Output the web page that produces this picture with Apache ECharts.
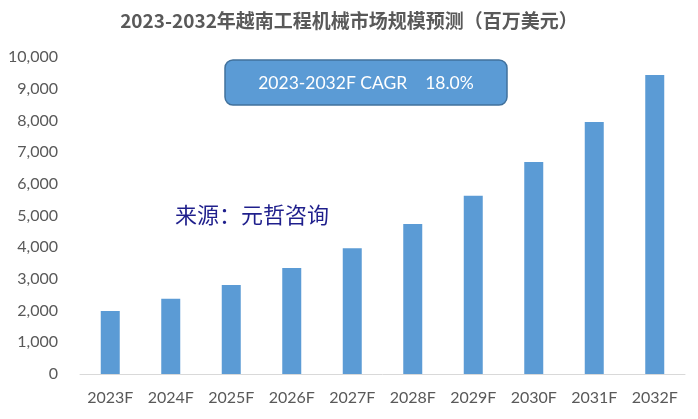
<!DOCTYPE html>
<html>
<head>
<meta charset="utf-8">
<script src="https://cdn.jsdelivr.net/npm/echarts@6/dist/echarts.min.js"></script>
<style>
  html, body { margin: 0; padding: 0; background: #fff; }
  #main { width: 698px; height: 419px; }
</style>
</head>
<body>
<div id="main"></div>
<script>
    // 年份与市场规模（百万美元）
    const years = ['2023F', '2024F', '2025F', '2026F', '2027F', '2028F', '2029F', '2030F', '2031F', '2032F'];
    const marketSize = [1990, 2370, 2810, 3340, 3970, 4730, 5620, 6690, 7950, 9430];
    const titleText = '2023-2032年越南工程机械市场规模预测（百万美元）';
    const cagrText = '2023-2032F CAGR    18.0%';
    const sourceText = '来源：元哲咨询';

    const labelFont = 'Lato, "Open Sans", "Noto Sans CJK SC", sans-serif';

    let myChart = echarts.init(document.getElementById('main'));
    myChart.setOption({
        animation: false,
        title: {
            text: titleText,
            left: 'center',
            top: 6,
            textStyle: {
                color: '#595959',
                fontSize: 19,
                fontWeight: 'bold',
                fontFamily: '"Noto Sans CJK SC", sans-serif'
            }
        },
        grid: {
            left: 80,
            right: 13,
            top: 57,
            bottom: 45
        },
        xAxis: {
            type: 'category',
            data: years,
            axisLine: { lineStyle: { color: '#D9D9D9', width: 1 } },
            axisTick: { show: false },
            axisLabel: {
                color: '#595959',
                fontSize: 16,
                fontFamily: labelFont,
                margin: 16
            }
        },
        yAxis: {
            type: 'value',
            min: 0,
            max: 10000,
            interval: 1000,
            splitLine: { show: false },
            axisLine: { show: false },
            axisTick: { show: false },
            axisLabel: {
                color: '#595959',
                fontSize: 16,
                fontFamily: labelFont,
                margin: 22,
                formatter: v => v.toLocaleString('en-US')
            }
        },
        series: [{
            type: 'bar',
            data: marketSize,
            barWidth: 19,
            itemStyle: { color: '#5B9BD5' }
        }],
        graphic: [
            {
                type: 'rect',
                shape: { x: 225, y: 60, width: 282, height: 45, r: 8 },
                style: { fill: '#5B9BD5', stroke: '#41719C', lineWidth: 1.5 }
            },
            {
                type: 'text',
                x: 366,
                y: 83,
                style: {
                    text: cagrText,
                    fill: '#fff',
                    fontSize: 17.5,
                    fontFamily: labelFont,
                    align: 'center',
                    verticalAlign: 'middle'
                }
            },
            {
                type: 'text',
                x: 175,
                y: 215,
                style: {
                    text: sourceText,
                    fill: '#1F1F8C',
                    fontSize: 22,
                    fontFamily: '"Noto Sans CJK SC", sans-serif',
                    verticalAlign: 'middle'
                }
            }
        ]
    });
</script>
</body>
</html>
